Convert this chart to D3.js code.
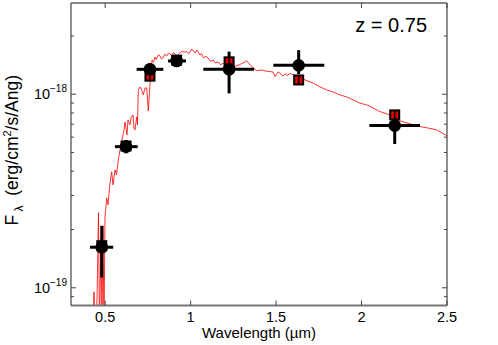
<!DOCTYPE html>
<html>
<head>
<meta charset="utf-8">
<script src="https://cdn.jsdelivr.net/npm/d3@7"></script>
<style>
  body { margin: 0; background: #fff; }
  text { font-family: "Liberation Sans", Arial, sans-serif; fill: #000; }
</style>
</head>
<body>
<div id="chart"></div>
<script>
// flux values below are in units of 1e-18 erg/cm^2/s/Ang
const FLUX_UNIT = 1e-18;

// model spectrum (red line)
const specWave = [0.4287, 0.4346, 0.4404, 0.4521, 0.4609, 0.4668, 0.4755, 0.4814, 0.4872, 0.4931,
  0.4989, 0.5089, 0.5165, 0.5282, 0.5382, 0.5458, 0.5575, 0.5662, 0.5768, 0.5867,
  0.5984, 0.6101, 0.6160, 0.6277, 0.6335, 0.6452, 0.6511, 0.6628, 0.6686, 0.6745,
  0.6844, 0.6891, 0.6938, 0.7037, 0.7137, 0.7231, 0.7330, 0.7430, 0.7523, 0.7593,
  0.7681, 0.7740, 0.7830, 0.7915, 0.7980, 0.8032, 0.8120, 0.8208, 0.8290, 0.8383,
  0.8480, 0.8600, 0.8700, 0.8793, 0.8910, 0.9000, 0.9086, 0.9200, 0.9378, 0.9500,
  0.9612, 0.9788, 0.9900, 1.0063, 1.0256, 1.0373, 1.0548, 1.0650, 1.0742, 1.0900,
  1.1016, 1.1150, 1.1327, 1.1450, 1.1602, 1.1750, 1.1912, 1.2050, 1.2187, 1.2421,
  1.2696, 1.2947, 1.3281, 1.3574, 1.3866, 1.4176, 1.4352, 1.4644, 1.4820, 1.4937,
  1.5112, 1.5229, 1.5400, 1.5522, 1.5650, 1.5814, 1.6007, 1.6282, 1.6692, 1.7178,
  1.7570, 1.7962, 1.8331, 1.8740, 1.9132, 1.9501, 1.9910, 2.0303, 2.0671, 2.1081,
  2.1490, 2.1841, 2.2251, 2.2836, 2.3421, 2.4007, 2.4398, 2.4708, 2.5000];
const specFlux = [0.060, 0.0954, 0.060, 0.0867, 0.2439, 0.060, 0.1812, 0.060, 0.2089, 0.060,
  0.2325, 0.2914, 0.2683, 0.3484, 0.3971, 0.3402, 0.4066, 0.3833, 0.4578, 0.5159,
  0.5808, 0.6542, 0.7194, 0.6165, 0.7367, 0.6945, 0.7545, 0.7818, 0.6699, 0.6542,
  0.7636, 0.6945, 1.0524, 1.0907, 1.0524, 0.9917, 1.0778, 1.0778, 0.8199, 1.0277,
  1.3349, 1.5033, 1.4600, 1.5579, 1.5100, 1.5394, 1.6000, 1.5763, 1.5200, 1.5394,
  1.6100, 1.5763, 1.6300, 1.6144, 1.5763, 1.6400, 1.6144, 1.5800, 1.6337, 1.6700,
  1.6534, 1.6592, 1.6200, 1.7134, 1.6337, 1.6931, 1.5953, 1.6200, 1.5394, 1.5700,
  1.5394, 1.4800, 1.5033, 1.4500, 1.4680, 1.4200, 1.4454, 1.4000, 1.4334, 1.3998,
  1.3998, 1.4334, 1.4855, 1.3882, 1.3239, 1.3349, 1.3193, 1.3084, 1.3036, 1.2326,
  1.3036, 1.2836, 1.2400, 1.2730, 1.2500, 1.2806, 1.2579, 1.2432, 1.1852, 1.1397,
  1.0907, 1.0524, 1.0277, 0.9917, 0.9685, 0.9345, 0.8987, 0.8806, 0.8498, 0.8131,
  0.7911, 0.7636, 0.7280, 0.7026, 0.6803, 0.6660, 0.6542, 0.6312, 0.6091];

// observed photometry (black points) and model photometry (red squares)
const photWave   = [0.480, 0.622, 0.762, 0.918, 1.225, 1.632, 2.194];
const photWaveLo = [0.411, 0.557, 0.684, 0.868, 1.074, 1.484, 2.046];
const photWaveHi = [0.547, 0.690, 0.840, 0.973, 1.371, 1.782, 2.342];
const photFlux   = [0.162, 0.536, 1.345, 1.486, 1.345, 1.410, 0.689];
const photFluxLo = [0.113, 0.495, 1.250, 1.420, 1.010, 1.270, 0.553];
const photFluxHi = [0.209, 0.580, 1.450, 1.560, 1.660, 1.690, 0.800];
const modelFlux  = [0.165, 0.540, 1.240, 1.500, 1.470, 1.185, 0.782];

const xTicks = [0.5, 1, 1.5, 2, 2.5];
const xTickLabels = ["0.5", "1", "1.5", "2", "2.5"];
const yMajorTicks = [1e-19, 1e-18];
const yMajorExp = ["\u221219", "\u221218"];
const yMinorTicks = [9e-20, 2e-19, 3e-19, 4e-19, 5e-19, 6e-19, 7e-19, 8e-19, 9e-19, 2e-18];
const redshiftLabel = "z = 0.75";

const width = 498, height = 345;
const margin = {top: 3, right: 51, bottom: 39.5, left: 71};
const x0 = margin.left, x1 = width - margin.right;
const y0 = margin.top, y1 = height - margin.bottom;

const svg = d3.select("#chart").append("svg")
  .attr("width", width)
  .attr("height", height);

svg.append("rect").attr("width", width).attr("height", height).attr("fill", "#fff");

const x = d3.scaleLinear().domain([0.3, 2.5]).range([x0, x1]);
const y = d3.scaleLog().domain([8.1e-20, 2.96e-18]).range([y1, y0]);

svg.append("clipPath").attr("id", "plotClip")
  .append("rect").attr("x", x0).attr("y", y0).attr("width", x1 - x0).attr("height", y1 - y0);

// spectrum
const spec = specWave.map((w, i) => ({w: w, f: specFlux[i] * FLUX_UNIT}));
const line = d3.line().x(d => x(d.w)).y(d => y(d.f));
svg.append("path")
  .datum(spec)
  .attr("clip-path", "url(#plotClip)")
  .attr("d", line)
  .attr("fill", "none")
  .attr("stroke", "#ff0000")
  .attr("stroke-width", 0.8);

const phot = photWave.map((w, i) => ({
  w: w, wlo: photWaveLo[i], whi: photWaveHi[i],
  f: photFlux[i] * FLUX_UNIT, flo: photFluxLo[i] * FLUX_UNIT, fhi: photFluxHi[i] * FLUX_UNIT,
  m: modelFlux[i] * FLUX_UNIT
}));

const pts = svg.append("g");
// error bars
pts.selectAll(".xerr").data(phot).enter().append("line")
  .attr("x1", d => x(d.wlo)).attr("x2", d => x(d.whi))
  .attr("y1", d => y(d.f)).attr("y2", d => y(d.f))
  .attr("stroke", "#000").attr("stroke-width", 3);
pts.selectAll(".yerr").data(phot).enter().append("line")
  .attr("x1", d => x(d.w)).attr("x2", d => x(d.w))
  .attr("y1", d => y(d.flo)).attr("y2", d => y(d.fhi))
  .attr("stroke", "#000").attr("stroke-width", 3);

// model squares
const sq = 9;
pts.selectAll(".msq").data(phot).enter().append("rect")
  .attr("x", d => x(d.w) - sq / 2).attr("y", d => y(d.m) - sq / 2)
  .attr("width", sq).attr("height", sq)
  .attr("fill", "#e00000").attr("stroke", "#000").attr("stroke-width", 2);
pts.selectAll(".mbar").data(phot).enter().append("line")
  .attr("x1", d => x(d.w)).attr("x2", d => x(d.w))
  .attr("y1", d => y(d.m) - sq / 2).attr("y2", d => y(d.m) + sq / 2)
  .attr("stroke", "#000").attr("stroke-width", 1.5);

// observed points
pts.selectAll(".dot").data(phot).enter().append("circle")
  .attr("cx", d => x(d.w)).attr("cy", d => y(d.f))
  .attr("r", 6.3).attr("fill", "#000");

// frame
const frame = svg.append("g");
frame.append("line").attr("x1", x0).attr("x2", x1).attr("y1", y0).attr("y2", y0)
  .attr("stroke", "#888").attr("stroke-width", 2);
frame.append("line").attr("x1", x0).attr("x2", x1).attr("y1", y1).attr("y2", y1)
  .attr("stroke", "#777").attr("stroke-width", 2);
frame.append("line").attr("x1", x0).attr("x2", x0).attr("y1", y0).attr("y2", y1)
  .attr("stroke", "#444").attr("stroke-width", 1.2);
frame.append("line").attr("x1", x1).attr("x2", x1).attr("y1", y0).attr("y2", y1)
  .attr("stroke", "#444").attr("stroke-width", 1.2);

// x ticks (inward, top and bottom)
xTicks.forEach(t => {
  frame.append("line").attr("x1", x(t)).attr("x2", x(t)).attr("y1", y1).attr("y2", y1 - 5)
    .attr("stroke", "#444");
  frame.append("line").attr("x1", x(t)).attr("x2", x(t)).attr("y1", y0).attr("y2", y0 + 5)
    .attr("stroke", "#444");
});
svg.append("g").selectAll("text").data(xTicks).enter().append("text")
  .attr("x", d => x(d)).attr("y", y1 + 16)
  .attr("text-anchor", "middle")
  .style("font-size", "14.5px")
  .text((d, i) => xTickLabels[i]);

// y ticks
yMajorTicks.forEach(t => {
  frame.append("line").attr("x1", x0).attr("x2", x0 + 5).attr("y1", y(t)).attr("y2", y(t)).attr("stroke", "#444");
  frame.append("line").attr("x1", x1).attr("x2", x1 - 5).attr("y1", y(t)).attr("y2", y(t)).attr("stroke", "#444");
});
yMinorTicks.forEach(t => {
  frame.append("line").attr("x1", x0).attr("x2", x0 + 3).attr("y1", y(t)).attr("y2", y(t)).attr("stroke", "#444");
  frame.append("line").attr("x1", x1).attr("x2", x1 - 3).attr("y1", y(t)).attr("y2", y(t)).attr("stroke", "#444");
});
const yl = svg.append("g").selectAll("text").data(yMajorTicks).enter().append("text")
  .attr("x", x0 - 4).attr("y", d => y(d) + 5)
  .attr("text-anchor", "end")
  .style("font-size", "14.5px");
yl.append("tspan").text("10");
yl.append("tspan").attr("dy", -7).style("font-size", "10px").text((d, i) => yMajorExp[i]);

// axis titles
svg.append("text")
  .attr("x", (x0 + x1) / 2).attr("y", height - 7)
  .attr("text-anchor", "middle")
  .style("font-size", "15px")
  .text("Wavelength  (\u00b5m)");

const ylab = svg.append("text")
  .attr("transform", `translate(18,${(y0 + y1) / 2 - 4}) rotate(-90)`)
  .attr("text-anchor", "middle")
  .style("font-size", "17.5px")
  .style("white-space", "pre");
ylab.append("tspan").text("F");
ylab.append("tspan").attr("dy", 5).style("font-size", "12px").text(" \u03bb");
ylab.append("tspan").attr("dy", -5).text("  (erg/cm");
ylab.append("tspan").attr("dy", -7).style("font-size", "11px").text("2");
ylab.append("tspan").attr("dy", 7).text("/s/Ang)");

svg.append("text")
  .attr("x", 427).attr("y", 31.5)
  .attr("text-anchor", "end")
  .style("font-size", "20px")
  .text(redshiftLabel);
</script>
</body>
</html>
